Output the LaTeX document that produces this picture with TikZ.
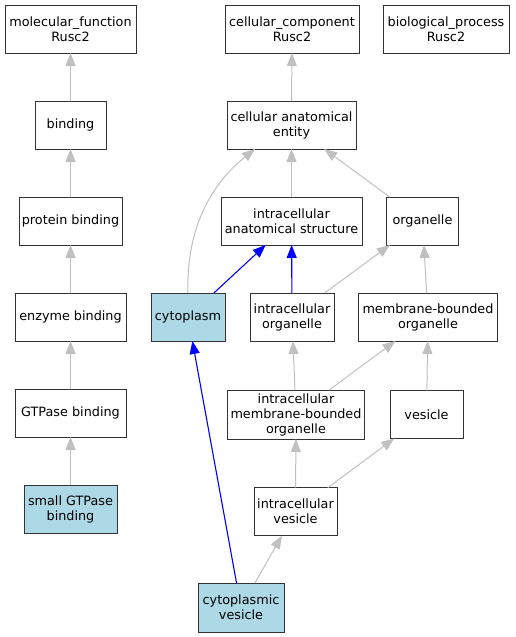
\documentclass[tikz,border=0pt]{standalone}
\usepackage{fontspec}
\setmainfont{DejaVu Sans}
\usetikzlibrary{arrows.meta,calc}
\definecolor{edgegray}{HTML}{C0C0C0}
\definecolor{hiblue}{HTML}{0000FF}
\definecolor{lblue}{HTML}{ADD8E6}
\definecolor{boxline}{HTML}{333333}
\begin{document}
\begin{tikzpicture}[x=1pt,y=-1pt,
  term/.style={draw=boxline, line width=1pt, fill=white, inner sep=0pt, outer sep=0pt,
    align=center, font=\fontsize{12.8}{15}\selectfont, minimum height=48pt},
  hit/.style={term, fill=lblue},
  gedge/.style={draw=edgegray, line width=1pt, -{Triangle[length=13pt,width=10pt]}},
  bedge/.style={draw=hiblue, line width=1.1pt, -{Triangle[length=13pt,width=10pt]}}]
\useasboundingbox (0,0) rectangle (515,637);
% nodes
\node[term, minimum width=131pt] (mf) at (70.5,29) {molecular\_function\\Rusc2};
\node[term, minimum width=134pt] (cc) at (292,29) {cellular\_component\\Rusc2};
\node[term, minimum width=126pt] (bp) at (446,29) {biological\_process\\Rusc2};
\node[term, minimum width=71pt] (bind) at (70.5,125) {binding};
\node[term, minimum width=129pt] (cae) at (291.5,125) {cellular anatomical\\entity};
\node[term, minimum width=103pt] (pb) at (70.5,221) {protein binding};
\node[term, minimum width=141pt] (ias) at (291.5,221) {intracellular\\anatomical structure};
\node[term, minimum width=72pt] (org) at (422.5,221) {organelle};
\node[term, minimum width=111pt] (eb) at (70.5,317) {enzyme binding};
\node[hit, minimum width=74pt] (cyto) at (188,317) {cytoplasm};
\node[term, minimum width=84pt] (io) at (292,317) {intracellular\\organelle};
\node[term, minimum width=139pt] (mbo) at (428,317) {membrane-bounded\\organelle};
\node[term, minimum width=111pt] (gb) at (70.5,413) {GTPase binding};
\node[term, minimum width=137pt, minimum height=49pt] (imbo) at (296,414.5) {intracellular\\membrane-bounded\\organelle};
\node[term, minimum width=73pt] (ves) at (426.5,414.5) {vesicle};
\node[hit, minimum width=93pt] (sgb) at (70.5,509) {small GTPase\\binding};
\node[term, minimum width=83pt] (iv) at (295.5,511.7) {intracellular\\vesicle};
\node[hit, minimum width=86pt, minimum height=49pt] (cv) at (241,607.5) {cytoplasmic\\vesicle};
\coordinate (caetip) at ($(cae.south west)+(28,0)$);
% edges
\draw[gedge] (bind) -- (mf);
\draw[gedge] (pb) -- (bind);
\draw[gedge] (eb) -- (pb);
\draw[gedge] (gb) -- (eb);
\draw[gedge] (sgb) -- (gb);
\draw[gedge] (cae) -- (cc);
\draw[gedge] (ias) -- (cae);
\draw[gedge] (cyto.north) .. controls (186,230) and (210,185) .. (caetip);
\draw[gedge] (org) -- (cae);
\draw[bedge] (cyto) -- (ias);
\draw[bedge] (io) -- (ias);
\draw[gedge] (io) -- (org);
\draw[gedge] (mbo) -- (org);
\draw[gedge] (imbo) -- (io);
\draw[gedge] (imbo) -- (mbo);
\draw[gedge] (ves) -- (mbo);
\draw[gedge] (iv) -- (imbo);
\draw[gedge] (iv) -- (ves);
\draw[gedge] (cv) -- (iv);
\draw[bedge] (cv) -- (cyto);
\end{tikzpicture}
\end{document}
